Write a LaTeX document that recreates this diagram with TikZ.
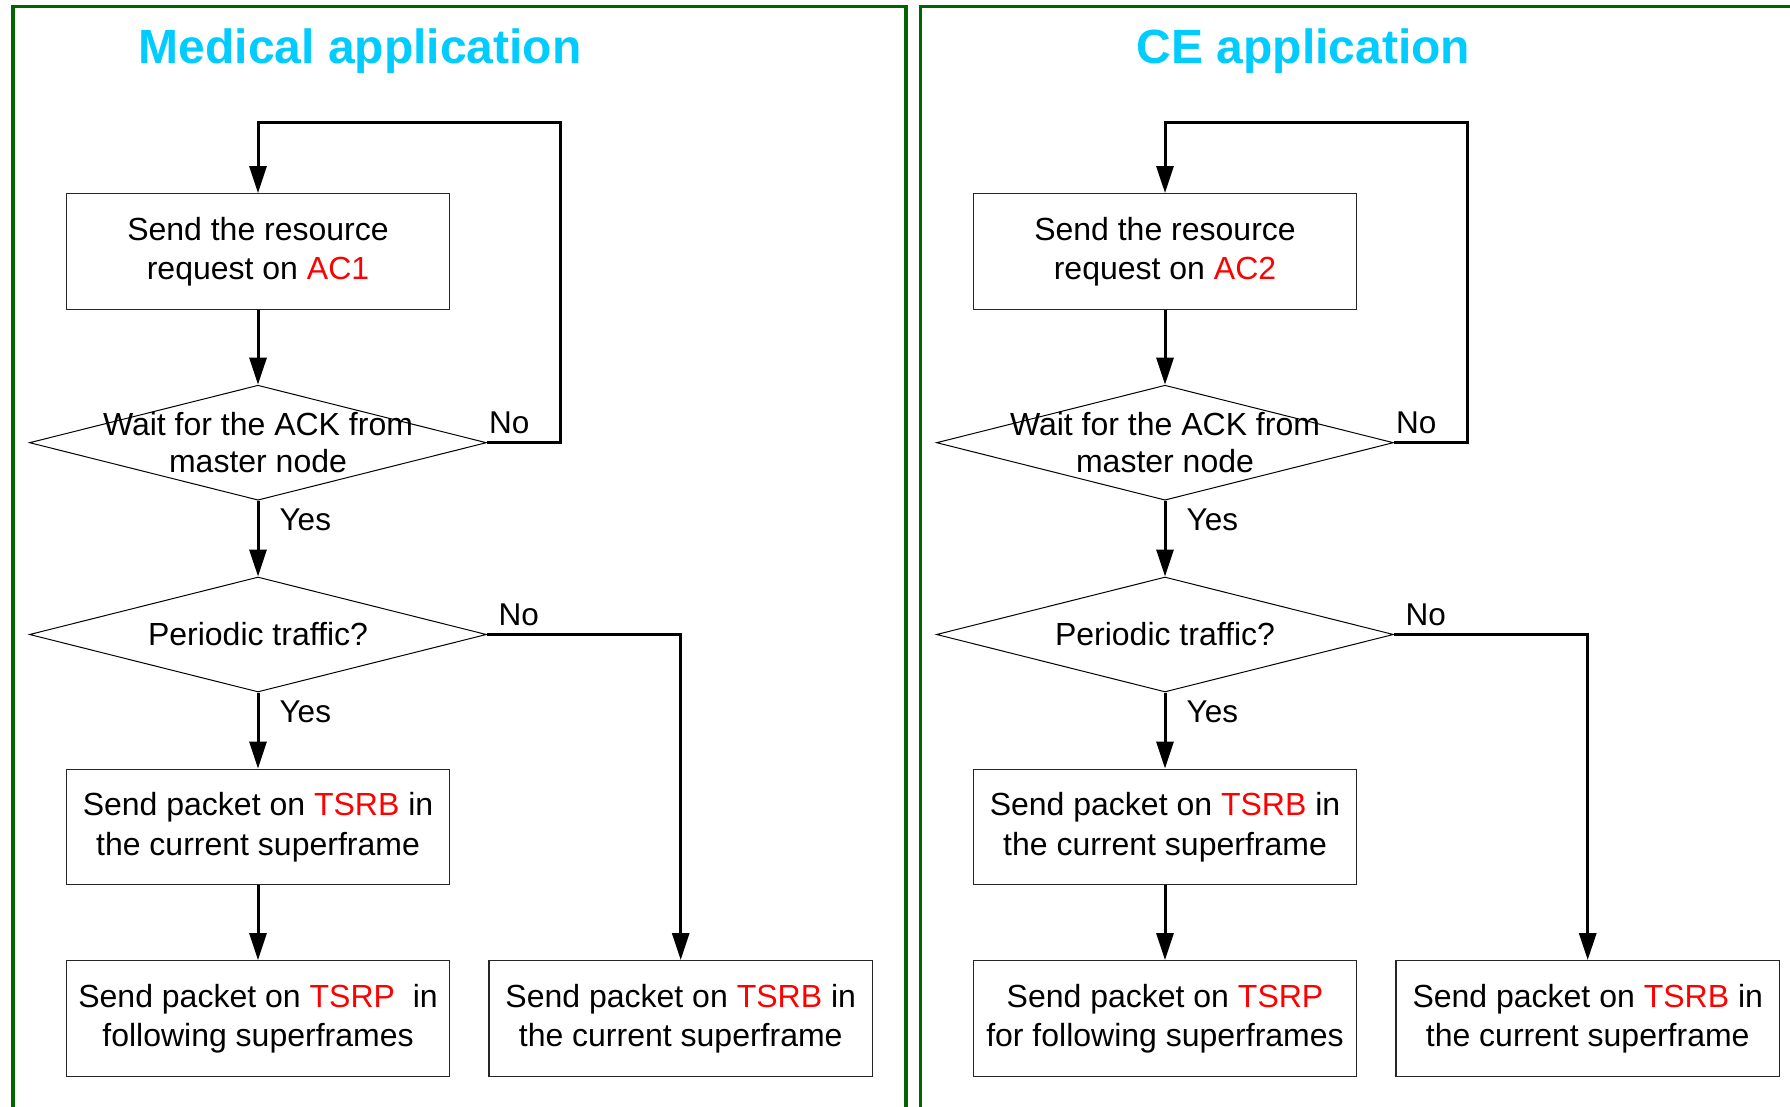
\documentclass[tikz,border=0pt]{standalone}
\usepackage{fontspec}
\setmainfont{Liberation Sans}
\usetikzlibrary{shapes.geometric,arrows.meta,calc}
\definecolor{panelgreen}{RGB}{0,100,0}
\definecolor{titlecyan}{RGB}{0,204,255}
\definecolor{hilite}{RGB}{255,0,0}
\newcommand{\hl}[1]{\textcolor{hilite}{#1}}

\begin{document}
\begin{tikzpicture}[x=1pt,y=-1pt,
  panel/.style={draw=panelgreen,line width=3.6pt},
  heading/.style={font=\fontsize{48}{56}\selectfont\bfseries,text=titlecyan,anchor=base,inner sep=0},
  procbox/.style={draw=black!85,line width=1.4pt,minimum width=383.5pt,minimum height=115.5pt,
                  inner sep=0,fill=white,font=\fontsize{32}{39.5}\selectfont,align=center},
  decision/.style={diamond,draw=black,line width=1pt,minimum width=457pt,minimum height=115pt,inner sep=0},
  boxtext/.style={font=\fontsize{32}{37.5}\selectfont,align=center,inner sep=0},
  lbl/.style={font=\fontsize{31.5}{36}\selectfont,inner sep=0,anchor=base west},
  flow/.style={line width=3pt,line join=miter,-{Triangle[length=27pt,width=17pt]}},
]
\useasboundingbox (0,0) rectangle (1790,1107);
\fill[white] (0,0) rectangle (1790,1107);
\clip (0,0) rectangle (1790,1107);

% panel frames
\draw[panel] (13,6.5) rectangle (906,1125);
\draw[panel] (920.5,6.5) rectangle (1813,1125);

% headings
\node[heading] (m-title) at (360.2,63.3) {Medical application};
\node[heading] (c-title) at (1303.5,63.3) {CE application};

% ---- medical flow ----
\node[procbox] (m-req) at (258,251.5) {Send the resource\\request on \hl{AC1}};
\node[decision] (m-ack) at (258,442.7) {};
\node[boxtext] (m-ack-t) at (m-ack.center) {Wait for the ACK from\\master node};
\node[decision] (m-per) at (258,634.5) {};
\node[boxtext] (m-per-t) at (m-per.center) {Periodic traffic?};
\node[procbox] (m-cur) at (258,827) {Send packet on \hl{TSRB} in\\the current superframe};
\node[procbox] (m-fol) at (258,1018.5) {Send packet on \hl{TSRP}\ \ in\\following superframes};
\node[procbox] (m-now) at (680.7,1018.5) {Send packet on \hl{TSRB} in\\the current superframe};
\coordinate (m-loop) at (560.7,122.3);

\draw[flow] (m-ack.east) -| (m-loop) -| (m-req.north);
\draw[flow] (m-req.south) -- (m-ack.north);
\draw[flow] (m-ack.south) -- (m-per.north);
\draw[flow] (m-per.south) -- (m-cur.north);
\draw[flow] (m-cur.south) -- (m-fol.north);
\draw[flow] (m-per.east) -| (m-now.north);

\node[lbl] (m-no1) at ($(m-ack.east)+(2,-9.4)$) {No};
\node[lbl] (m-no2) at ($(m-per.east)+(11.5,-9.5)$) {No};
\node[lbl] (m-yes1) at ($(m-ack.south)+(21.4,29.3)$) {Yes};
\node[lbl] (m-yes2) at ($(m-per.south)+(21.4,29.9)$) {Yes};

% ---- CE flow ----
\node[procbox] (c-req) at (1165,251.5) {Send the resource\\request on \hl{AC2}};
\node[decision] (c-ack) at (1165,442.7) {};
\node[boxtext] (c-ack-t) at (c-ack.center) {Wait for the ACK from\\master node};
\node[decision] (c-per) at (1165,634.5) {};
\node[boxtext] (c-per-t) at (c-per.center) {Periodic traffic?};
\node[procbox] (c-cur) at (1165,827) {Send packet on \hl{TSRB} in\\the current superframe};
\node[procbox] (c-fol) at (1165,1018.5) {Send packet on \hl{TSRP}\\for following superframes};
\node[procbox] (c-now) at (1587.7,1018.5) {Send packet on \hl{TSRB} in\\the current superframe};
\coordinate (c-loop) at (1467.7,122.3);

\draw[flow] (c-ack.east) -| (c-loop) -| (c-req.north);
\draw[flow] (c-req.south) -- (c-ack.north);
\draw[flow] (c-ack.south) -- (c-per.north);
\draw[flow] (c-per.south) -- (c-cur.north);
\draw[flow] (c-cur.south) -- (c-fol.north);
\draw[flow] (c-per.east) -| (c-now.north);

\node[lbl] (c-no1) at ($(c-ack.east)+(2,-9.4)$) {No};
\node[lbl] (c-no2) at ($(c-per.east)+(11.5,-9.5)$) {No};
\node[lbl] (c-yes1) at ($(c-ack.south)+(21.4,29.3)$) {Yes};
\node[lbl] (c-yes2) at ($(c-per.south)+(21.4,29.9)$) {Yes};
\end{tikzpicture}
\end{document}
